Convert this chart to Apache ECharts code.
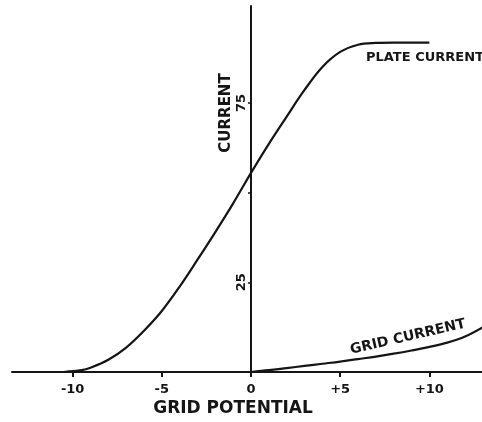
<!DOCTYPE html>
<html>
<head>
<meta charset="utf-8">
<script src="https://cdn.jsdelivr.net/npm/echarts@6/dist/echarts.min.js"></script>
<style>html,body{margin:0;padding:0;background:#fff;}#c{width:482px;height:422px;}</style>
</head>
<body>
<div id="c"></div>
<script>
// Plate current curve (grid potential, current)
const plateX = [-10.5, -9.5, -9, -8, -7, -6, -5, -4, -3, -2, -1, 0, 1, 2, 3, 4, 5, 6, 7, 8, 10];
const plateY = [0, 0.5, 1.2, 3.4, 6.8, 11.5, 17, 23.8, 31.3, 39, 47, 55.5, 63.6, 71.2, 78.6, 85, 89.2, 91.2, 91.7, 91.8, 91.8];
// Grid current curve
const gridX = [0, 1, 2, 3, 4, 5, 6, 7, 8, 9, 10, 11, 12, 13];
const gridY = [0, 0.5, 1.1, 1.7, 2.3, 2.9, 3.6, 4.3, 5.1, 6, 7, 8.2, 9.9, 12.5];
// Axis ticks
const xTicks = [-10, -5, 0, 5, 10];
const yTicks = [25, 50, 75];
const yLabelTicks = [25, 75];

const chart = echarts.init(document.getElementById('c'), null, {renderer: 'canvas'});
const ink = '#151515';
const fam = 'DejaVu Sans';
const zip = (xs, ys) => xs.map((x, i) => [x, ys[i]]);

chart.setOption({
  backgroundColor: '#ffffff',
  animation: false,
  grid: {left: 12, right: 0, top: 6, bottom: 50, containLabel: false},
  xAxis: {
    type: 'value', min: -13.4, max: 12.95,
    axisLine: {show: true, onZero: false, lineStyle: {color: ink, width: 2}},
    axisTick: {show: true, length: 5, lineStyle: {color: ink, width: 2}, customValues: xTicks},
    axisLabel: {
      customValues: xTicks, margin: 11, color: ink, fontSize: 13, fontWeight: 'bold', fontFamily: fam,
      formatter: v => (v > 0 ? '+' + v : String(v))
    },
    splitLine: {show: false}
  },
  yAxis: {
    type: 'value', min: 0, max: 102, position: 'left', offset: -239,
    axisLine: {show: true, onZero: false, lineStyle: {color: ink, width: 2}},
    axisTick: {show: true, length: 3, lineStyle: {color: ink, width: 1.5}, customValues: yTicks},
    axisLabel: {
      customValues: yLabelTicks, rotate: 90, margin: 3, color: ink, fontSize: 13, fontWeight: 'bold', fontFamily: fam
    },
    splitLine: {show: false}
  },
  series: [
    {
      name: 'PLATE CURRENT', type: 'line', smooth: 0.35, showSymbol: false,
      data: zip(plateX, plateY), lineStyle: {color: ink, width: 2.2}
    },
    {
      name: 'GRID CURRENT', type: 'line', smooth: 0.35, showSymbol: false,
      data: zip(gridX, gridY), lineStyle: {color: ink, width: 2.2}
    }
  ],
  graphic: [
    {type: 'text', x: 233, y: 409, style: {text: 'GRID POTENTIAL', fontSize: 17, fontWeight: 'bold', fontFamily: fam, fill: ink, align: 'center', verticalAlign: 'middle'}},
    {type: 'text', x: 226, y: 113, rotation: Math.PI / 2, style: {text: 'CURRENT', fontSize: 15, fontWeight: 'bold', fontFamily: fam, fill: ink, align: 'center', verticalAlign: 'middle'}},
    {type: 'text', x: 366, y: 58, style: {text: 'PLATE CURRENT', fontSize: 13, fontWeight: 'bold', fontFamily: fam, fill: ink, align: 'left', verticalAlign: 'middle'}},
    {type: 'text', x: 408, y: 337, rotation: 13 * Math.PI / 180, style: {text: 'GRID CURRENT', fontSize: 14, fontWeight: 'bold', fontFamily: fam, fill: ink, align: 'center', verticalAlign: 'middle'}}
  ]
});
</script>
</body>
</html>
